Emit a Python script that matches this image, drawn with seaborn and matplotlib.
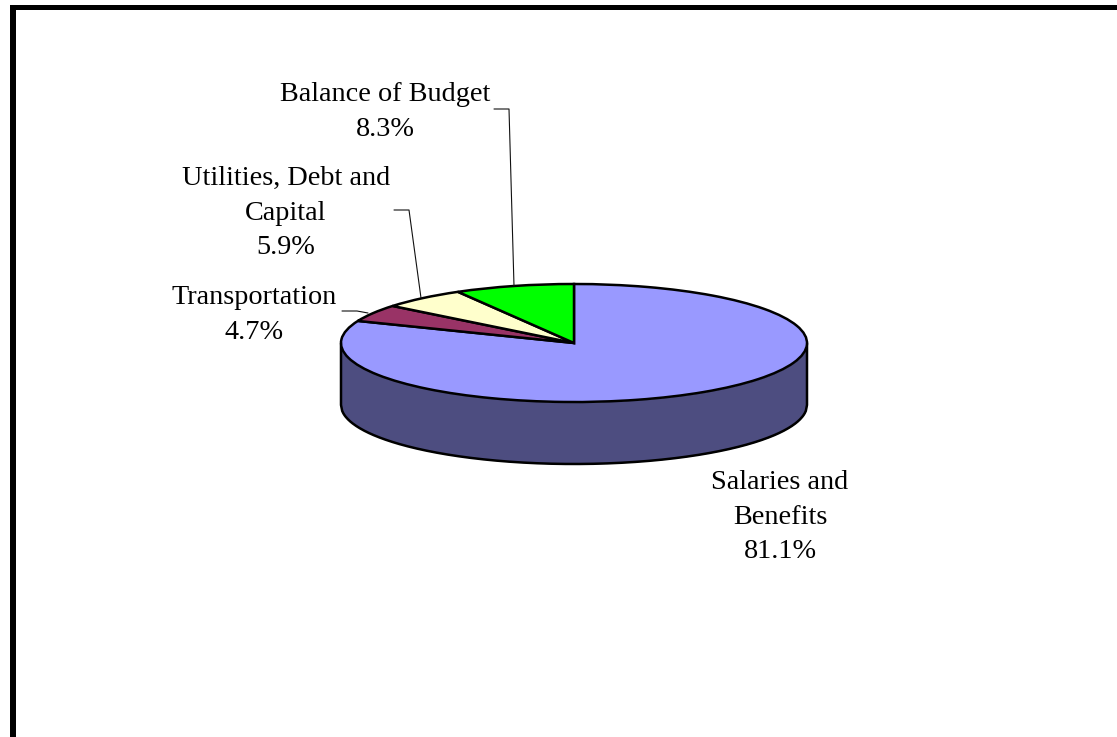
import numpy as np
import matplotlib
matplotlib.use("Agg")
import matplotlib.pyplot as plt
from matplotlib.lines import Line2D
from matplotlib.patches import Rectangle
import seaborn as sns

# Budget shares, clockwise from twelve o'clock
categories = ["Salaries and\nBenefits", "Transportation", "Utilities, Debt and\nCapital", "Balance of Budget"]
shares = [81.1, 4.7, 5.9, 8.3]
slice_colors = ["#9999ff", "#993366", "#ffffcc", "#00ff00"]
side_color = "#4d4d80"

WIDTH, HEIGHT = 1117, 737

sns.set_theme(style="white")
plt.rcParams["font.family"] = ["Liberation Serif", "DejaVu Serif"]

fig = plt.figure(figsize=(WIDTH / 100, HEIGHT / 100), dpi=100, facecolor="white")
ax = fig.add_axes([0, 0, 1, 1])

# Tilted disc: a unit pie squashed by unequal axis scales
cx, cy, rx, ry, depth_px = 574, 343, 233, 59, 62
depth = depth_px / ry
outline = 1.8
edge = dict(edgecolor="black", linewidth=outline)

x = np.linspace(-1, 1, 400)
lower_rim = -np.sqrt(1 - x ** 2)
ax.fill_between(x, lower_rim, lower_rim - depth, color=side_color, linewidth=0, zorder=1)
# Side wall outline as one continuous path
ax.plot(np.r_[-1, x, 1], np.r_[0, lower_rim - depth, 0], color="black", lw=outline,
        solid_joinstyle="round", zorder=2)

wedges, _ = ax.pie(
    shares,
    colors=sns.color_palette(slice_colors),
    startangle=90,
    counterclock=False,
    radius=1,
    wedgeprops=edge,
)
for w in wedges:
    w.set_zorder(3)

ax.set_aspect("auto")
ax.set_xlim(-cx / rx, (WIDTH - cx) / rx)
ax.set_ylim(-(HEIGHT - cy) / ry, cy / ry)
ax.axis("off")


def fx(px):
    return px / WIDTH


def fy(py):
    return 1 - py / HEIGHT


# Category labels with their percentages
label_centres = [(780, 517), (254, 315), (286, 213), (385, 112)]
for name, value, (px, py) in zip(categories, shares, label_centres):
    fig.text(fx(px), fy(py), f"{name}\n{value:.1f}%", ha="center", va="center",
             multialignment="center", fontsize=20.3, linespacing=1.52, color="black")

# Leader lines from labels to slices
leaders = [
    ([342, 357, 368], [311, 311, 313]),
    ([394, 409, 421], [210, 210, 298]),
    ([494, 509, 514], [109, 109, 286]),
]
for xs, ys in leaders:
    fig.add_artist(Line2D([fx(v) for v in xs], [fy(v) for v in ys], color="#111111", lw=0.8,
                          transform=fig.transFigure, zorder=4))

# Heavy border along the top and left
for left, top, w, h in [(10, 5, 5.5, HEIGHT - 5), (10, 5, WIDTH - 10, 5.3)]:
    fig.add_artist(Rectangle((fx(left), fy(top + h)), w / WIDTH, h / HEIGHT, color="black",
                             linewidth=0, transform=fig.transFigure))

fig.savefig("out.png", dpi=100, facecolor="white")
